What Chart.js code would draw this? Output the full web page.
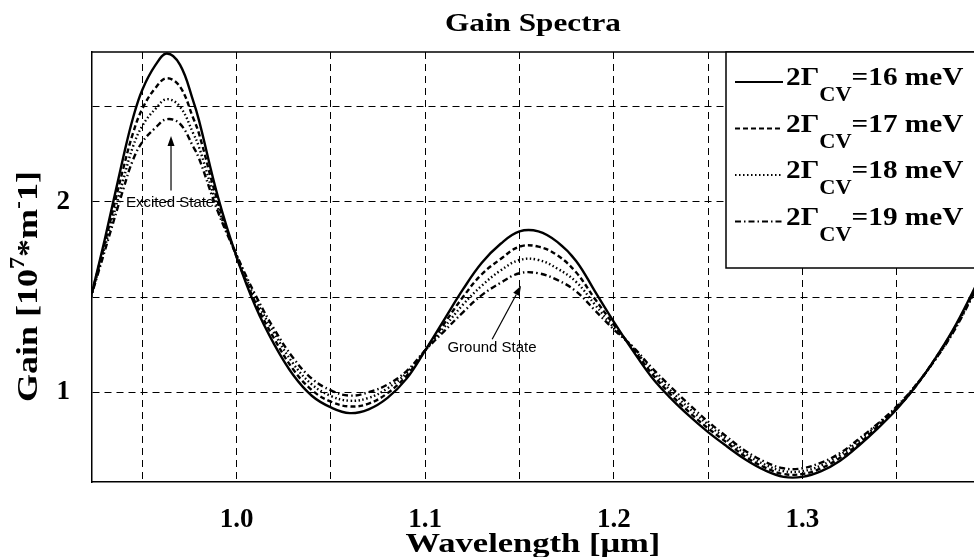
<!DOCTYPE html>
<html>
<head>
<meta charset="utf-8">
<script src="https://cdn.jsdelivr.net/npm/chart.js@4.4.1/dist/chart.umd.min.js"></script>
<style>
  html, body { margin: 0; padding: 0; background: #fff; }
</style>
</head>
<body>
<canvas id="myChart" width="974" height="557"></canvas>
<script>
// wavelength in um
var wavelength = [0.92, 0.93, 0.94, 0.945, 0.95, 0.957, 0.963, 0.97, 0.977, 0.98,
  0.99, 1.00, 1.01, 1.02, 1.03, 1.04, 1.05, 1.06, 1.07, 1.08,
  1.09, 1.10, 1.11, 1.12, 1.13, 1.14, 1.15, 1.16, 1.17,
  1.18, 1.19, 1.20, 1.21, 1.22, 1.23, 1.24, 1.25, 1.26, 1.27,
  1.28, 1.29, 1.30, 1.31, 1.32, 1.33, 1.34, 1.35, 1.36, 1.37,
  1.38, 1.39, 1.40];

// gain in 10^7 m^-1, one list per broadening 2*Gamma_CV
var gain16 = [1.39, 1.80, 2.24, 2.44, 2.59, 2.72, 2.78, 2.72, 2.53, 2.43,
  2.03, 1.71, 1.45, 1.25, 1.09, 0.98, 0.92, 0.89, 0.91, 0.97,
  1.07, 1.22, 1.38, 1.54, 1.68, 1.78, 1.845, 1.845, 1.79,
  1.69, 1.53, 1.37, 1.22, 1.08, 0.97, 0.875, 0.79, 0.715, 0.645,
  0.59, 0.555, 0.555, 0.585, 0.64, 0.72, 0.81, 0.91, 1.03, 1.17,
  1.33, 1.52, 1.72];
var gain17 = [1.40, 1.78, 2.18, 2.36, 2.49, 2.60, 2.65, 2.605, 2.44, 2.36,
  2.00, 1.71, 1.47, 1.28, 1.12, 1.01, 0.95, 0.925, 0.94, 0.995,
  1.085, 1.22, 1.36, 1.50, 1.62, 1.70, 1.765, 1.765, 1.72,
  1.63, 1.49, 1.355, 1.23, 1.10, 0.99, 0.895, 0.81, 0.735, 0.66,
  0.605, 0.57, 0.57, 0.60, 0.655, 0.73, 0.82, 0.915, 1.03, 1.17,
  1.325, 1.51, 1.71];
var gain18 = [1.40, 1.76, 2.12, 2.29, 2.40, 2.49, 2.54, 2.50, 2.36, 2.29,
  1.97, 1.72, 1.49, 1.31, 1.15, 1.04, 0.98, 0.955, 0.97, 1.02,
  1.10, 1.22, 1.34, 1.46, 1.56, 1.64, 1.695, 1.695, 1.65,
  1.58, 1.46, 1.34, 1.235, 1.115, 1.01, 0.915, 0.83, 0.75, 0.675,
  0.62, 0.585, 0.585, 0.615, 0.67, 0.745, 0.83, 0.92, 1.035, 1.165,
  1.32, 1.505, 1.70];
var gain19 = [1.41, 1.74, 2.07, 2.22, 2.315, 2.39, 2.435, 2.41, 2.29, 2.23,
  1.95, 1.72, 1.51, 1.33, 1.18, 1.07, 1.01, 0.982, 1.00, 1.04,
  1.11, 1.22, 1.32, 1.42, 1.51, 1.575, 1.625, 1.625, 1.59,
  1.53, 1.43, 1.33, 1.24, 1.13, 1.03, 0.935, 0.845, 0.765, 0.69,
  0.635, 0.60, 0.60, 0.63, 0.68, 0.755, 0.835, 0.925, 1.035, 1.165,
  1.315, 1.50, 1.69];

var broadening = [16, 17, 18, 19]; // meV
var xGrid = [0.95, 1.0, 1.05, 1.1, 1.15, 1.2, 1.25, 1.3, 1.35];
var yGrid = [1.0, 1.5, 2.0, 2.5];
var xTickLabels = ['1.0', '1.1', '1.2', '1.3'];
var yTickLabels = ['1', '2'];

var SERIF = '"Liberation Serif", "Times New Roman", serif';
var SANS = '"Liberation Sans", Arial, sans-serif';

function pts(ys) {
  return wavelength.map(function (x, i) { return {x: x, y: ys[i]}; });
}

var dashes = [[], [5, 3], [1.5, 2.5], [6, 3, 1.5, 3]];
var series = [gain16, gain17, gain18, gain19];

var datasets = series.map(function (ys, i) {
  return {
    label: '2ΓCV=' + broadening[i] + ' meV',
    data: pts(ys),
    borderColor: '#000',
    borderWidth: 2.4,
    borderDash: dashes[i],
    pointRadius: 0,
    fill: false,
    tension: 0.4
  };
});

// text drawn with a horizontal stretch, like the scanned original
function drawText(ctx, str, x, y, font, sx, align) {
  ctx.save();
  ctx.font = font;
  var w = ctx.measureText(str).width * sx;
  var x0 = align === 'center' ? x - w / 2 : (align === 'right' ? x - w : x);
  ctx.translate(x0, y);
  ctx.scale(sx, 1);
  ctx.textAlign = 'left';
  ctx.textBaseline = 'alphabetic';
  ctx.fillStyle = '#000';
  ctx.fillText(str, 0, 0);
  ctx.restore();
  return w;
}

function drawArrow(ctx, x1, y1, x2, y2) {
  var a = Math.atan2(y2 - y1, x2 - x1);
  var hl = 10, hw = 3.5;
  ctx.save();
  ctx.strokeStyle = '#000';
  ctx.fillStyle = '#000';
  ctx.lineWidth = 1.2;
  ctx.beginPath();
  ctx.moveTo(x1, y1);
  ctx.lineTo(x2 - hl * Math.cos(a), y2 - hl * Math.sin(a));
  ctx.stroke();
  ctx.beginPath();
  ctx.moveTo(x2, y2);
  ctx.lineTo(x2 - hl * Math.cos(a) + hw * Math.sin(a), y2 - hl * Math.sin(a) - hw * Math.cos(a));
  ctx.lineTo(x2 - hl * Math.cos(a) - hw * Math.sin(a), y2 - hl * Math.sin(a) + hw * Math.cos(a));
  ctx.closePath();
  ctx.fill();
  ctx.restore();
}

var decor = {
  id: 'decor',
  afterDatasetsDraw: function (chart) {
    var ctx = chart.ctx, a = chart.chartArea;
    var xs = chart.scales.x, ys = chart.scales.y;

    // frame top line
    ctx.save();
    ctx.strokeStyle = '#000';
    ctx.lineWidth = 1.5;
    ctx.beginPath();
    ctx.moveTo(a.left, a.top);
    ctx.lineTo(a.right, a.top);
    ctx.stroke();
    ctx.restore();

    // annotations
    drawArrow(ctx, xs.getPixelForValue(0.9652), ys.getPixelForValue(2.06),
      xs.getPixelForValue(0.9652), ys.getPixelForValue(2.346));
    drawText(ctx, 'Excited State', xs.getPixelForValue(0.9647), ys.getPixelForValue(1.975),
      '14px ' + SANS, 1.07, 'center');
    drawArrow(ctx, xs.getPixelForValue(1.1355), ys.getPixelForValue(1.278),
      xs.getPixelForValue(1.1508), ys.getPixelForValue(1.56));
    drawText(ctx, 'Ground State', xs.getPixelForValue(1.1354), ys.getPixelForValue(1.21),
      '14px ' + SANS, 1.07, 'center');

    // legend box
    var bx = 726, by = a.top, bh = 216;
    ctx.save();
    ctx.fillStyle = '#fff';
    ctx.fillRect(bx, by, chart.width - bx + 2, bh);
    ctx.strokeStyle = '#000';
    ctx.lineWidth = 1.5;
    ctx.strokeRect(bx, by, chart.width - bx + 2, bh);
    ctx.restore();
    chart.data.datasets.forEach(function (ds, i) {
      var yb = by + 33 + i * 46.5;
      ctx.save();
      ctx.strokeStyle = '#000';
      ctx.lineWidth = 2;
      ctx.setLineDash(ds.borderDash);
      ctx.beginPath();
      ctx.moveTo(bx + 9, yb - 3);
      ctx.lineTo(bx + 57, yb - 3);
      ctx.stroke();
      ctx.restore();
      var x = bx + 60;
      x += drawText(ctx, '2Γ', x, yb, 'bold 25px ' + SERIF, 1.17, 'left');
      x += drawText(ctx, 'CV', x, yb + 16, 'bold 20px ' + SERIF, 1.12, 'left');
      drawText(ctx, '=' + broadening[i] + ' meV', x, yb, 'bold 25px ' + SERIF, 1.17, 'left');
    });
  },
  afterDraw: function (chart) {
    var ctx = chart.ctx, a = chart.chartArea;
    // title
    drawText(ctx, 'Gain Spectra', (a.left + a.right) / 2, 31, 'bold 26px ' + SERIF, 1.2, 'center');
    // x axis title
    drawText(ctx, 'Wavelength [μm]', (a.left + a.right) / 2, 552, 'bold 27px ' + SERIF, 1.28, 'center');
    // y axis title, rotated, with superscripts
    ctx.save();
    ctx.translate(37, 402);
    ctx.rotate(-Math.PI / 2);
    var big = 'bold 30px ' + SERIF, small = 'bold 20px ' + SERIF, s = 1.2;
    var x = 0;
    x += drawText(ctx, 'Gain [10', x, 0, big, s, 'left');
    x += drawText(ctx, '7', x, -13, small, s, 'left');
    x += drawText(ctx, '*m', x, 0, big, s, 'left');
    x += drawText(ctx, '-', x, -13, small, s, 'left');
    drawText(ctx, '1]', x, 0, big, s, 'left');
    ctx.restore();
  }
};

var ctx = document.getElementById('myChart');
var myChart = new Chart(ctx, {
  type: 'line',
  data: {datasets: datasets},
  options: {
    responsive: false,
    animation: false,
    layout: {padding: {top: 52, right: 0, bottom: 0, left: 0}},
    plugins: {
      legend: {display: false},
      title: {display: false},
      tooltip: {enabled: false}
    },
    scales: {
      x: {
        type: 'linear',
        min: 0.9233,
        max: 1.391,
        afterFit: function (s) { s.height = 75; },
        afterBuildTicks: function (s) { s.ticks = xGrid.map(function (v) { return {value: v}; }); },
        ticks: {
          autoSkip: false,
          maxRotation: 0,
          padding: 22,
          color: '#000',
          font: {family: SERIF, size: 27, weight: 'bold'},
          callback: function (v) {
            var t = v.toFixed(1);
            return (Math.abs(v - t) < 1e-6 && xTickLabels.indexOf(t) >= 0) ? t : '';
          }
        },
        grid: {color: '#000', lineWidth: 1, drawTicks: false},
        border: {display: true, color: '#000', width: 1.5, dash: [7, 5]}
      },
      y: {
        type: 'linear',
        min: 0.528,
        max: 2.788,
        afterFit: function (s) { s.width = 92; },
        afterBuildTicks: function (s) { s.ticks = yGrid.map(function (v) { return {value: v}; }); },
        ticks: {
          autoSkip: false,
          padding: 22,
          color: '#000',
          font: {family: SERIF, size: 27, weight: 'bold'},
          callback: function (v) {
            var t = String(v);
            return yTickLabels.indexOf(t) >= 0 ? t : '';
          }
        },
        grid: {color: '#000', lineWidth: 1, drawTicks: false},
        border: {display: true, color: '#000', width: 1.5, dash: [7, 5]}
      }
    }
  },
  plugins: [decor]
});
</script>
</body>
</html>
